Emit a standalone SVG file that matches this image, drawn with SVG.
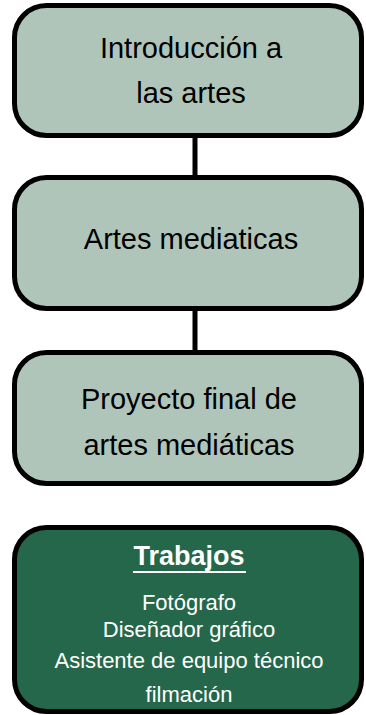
<svg xmlns="http://www.w3.org/2000/svg" width="366" height="715" viewBox="0 0 366 715">
<style>
.box{fill:#AFC5B9;stroke:#000;stroke-width:5}
.dark{fill:#25674A;stroke:#000;stroke-width:5}
.t{font-family:"Liberation Sans",Arial,sans-serif;font-size:29px;fill:#000;text-anchor:middle}
.w{font-family:"Liberation Sans",Arial,sans-serif;font-size:22px;fill:#fff;text-anchor:middle}
.h{font-family:"Liberation Sans",Arial,sans-serif;font-size:27px;font-weight:bold;fill:#fff;text-anchor:middle}
.c{stroke:#000;stroke-width:5;fill:none}
</style>
<rect width="366" height="715" fill="#fff"/>
<g id="connectors">
<line class="c" x1="195" y1="136" x2="195" y2="177"/>
<line class="c" x1="195" y1="308" x2="195" y2="352"/>
</g>
<g id="n1">
<rect class="box" x="14.5" y="5.5" width="347" height="130" rx="32"/>
<text class="t" x="191" y="58">Introducción a</text>
<text class="t" x="191" y="103">las artes</text>
</g>
<g id="n2">
<rect class="box" x="14.5" y="177.5" width="347" height="131" rx="32"/>
<text class="t" x="191" y="249">Artes mediaticas</text>
</g>
<g id="n3">
<rect class="box" x="14.5" y="352.5" width="347" height="131" rx="32"/>
<text class="t" x="189" y="409">Proyecto final de</text>
<text class="t" x="189" y="455">artes mediáticas</text>
</g>
<g id="n4">
<rect class="dark" x="14.5" y="527.5" width="347" height="184" rx="32"/>
<text class="h" x="189" y="565">Trabajos</text>
<line x1="133" y1="572" x2="246" y2="572" stroke="#fff" stroke-width="2"/>
<text class="w" x="189" y="610">Fotógrafo</text>
<text class="w" x="189" y="637">Diseñador gráfico</text>
<text class="w" x="189" y="668">Asistente de equipo técnico</text>
<text class="w" x="189" y="702">filmación</text>
</g>
</svg>
